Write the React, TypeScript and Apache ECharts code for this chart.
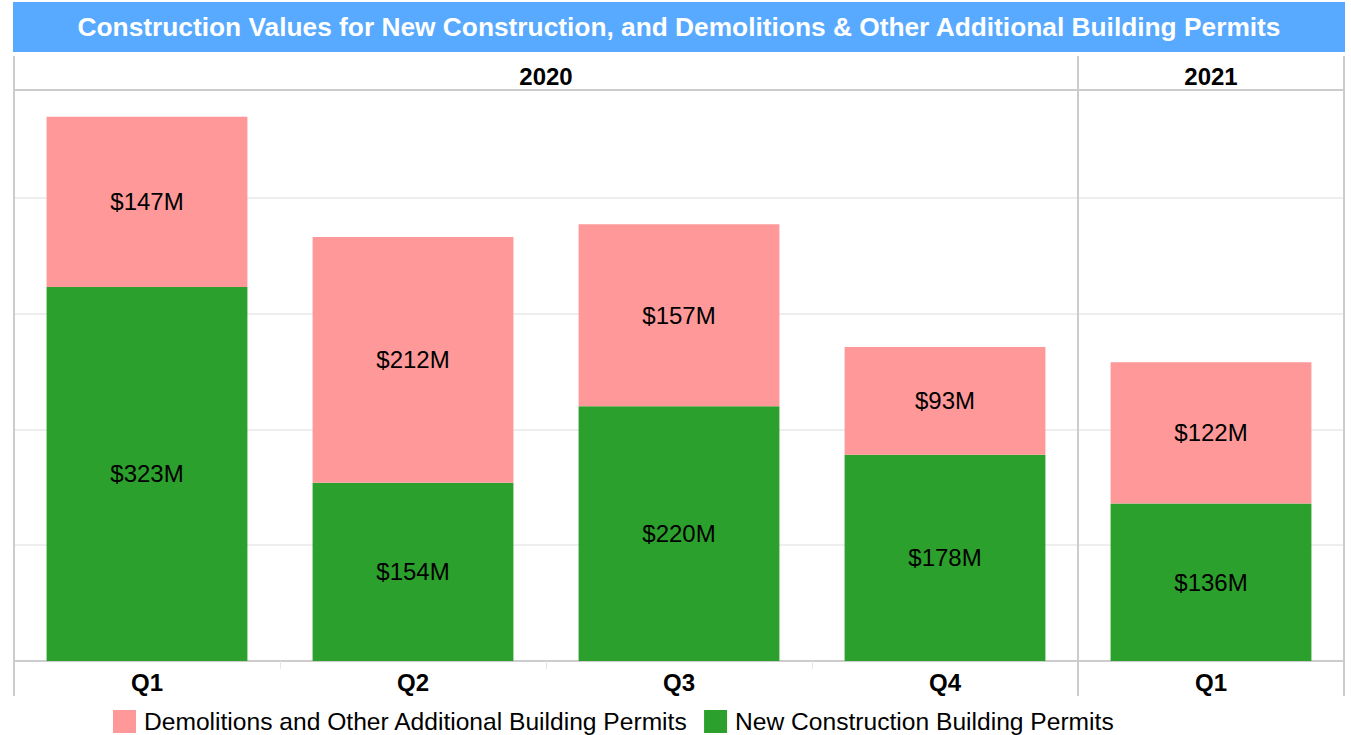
import React, { useEffect, useRef } from "react";
import * as echarts from "echarts";

const categories = ["Q1", "Q2", "Q3", "Q4", "Q1"];
const newConstruction = [323, 154, 220, 178, 136];
const demolitions = [147, 212, 157, 93, 122];
const years = ["2020", "2021"];
const yearSpans = [4, 1];
const seriesNames = ["New Construction Building Permits", "Demolitions and Other Additional Building Permits"];
const titleText = "Construction Values for New Construction, and Demolitions & Other Additional Building Permits";

const W = 1351;
const H = 735;
const GL = 14;
const GR = 1344;
const GT = 90;
const GB = 661;
const FONT = "Liberation Sans, Arial, sans-serif";
const BORDER = "#cccccc";

export default function App() {
  const ref = useRef<HTMLDivElement>(null);
  useEffect(() => {
    document.body.style.margin = "0";
    const chart = echarts.init(ref.current!, null, { renderer: "svg" });
    const catW = (GR - GL) / categories.length;
    const graphics: any[] = [
      { type: "rect", shape: { x: 13, y: 2, width: 1332, height: 50 }, style: { fill: "#57AAFF" }, z: 1 },
      {
        type: "text", x: 679, y: 27, z: 2,
        style: { text: titleText, fill: "#ffffff", font: `bold 26.3px ${FONT}`, textAlign: "center", textVerticalAlign: "middle" },
      },
      { type: "line", shape: { x1: GL, y1: 56, x2: GL, y2: 696 }, style: { stroke: BORDER, lineWidth: 2 }, z: 5 },
      { type: "line", shape: { x1: GR, y1: 56, x2: GR, y2: 696 }, style: { stroke: BORDER, lineWidth: 2 }, z: 5 },
      { type: "line", shape: { x1: GL, y1: GT, x2: GR, y2: GT }, style: { stroke: BORDER, lineWidth: 2 }, z: 5 },
    ];
    let cum = 0;
    years.forEach((y, i) => {
      const span = yearSpans[i];
      const cx = GL + (cum + span / 2) * catW;
      graphics.push({
        type: "text", x: cx, y: 76, z: 5,
        style: { text: y, fill: "#000", font: `bold 24px ${FONT}`, textAlign: "center", textVerticalAlign: "middle" },
      });
      cum += span;
      if (cum < categories.length) {
        const sx = GL + cum * catW;
        graphics.push({ type: "line", shape: { x1: sx, y1: 56, x2: sx, y2: 696 }, style: { stroke: BORDER, lineWidth: 2 }, z: 5 });
      }
    });

    const labelCfg = {
      show: true,
      position: "inside",
      color: "#000",
      fontSize: 24,
      fontFamily: FONT,
      formatter: (p: any) => `$${p.value}M`,
    };

    chart.setOption({
      animation: false,
      grid: { left: GL, right: W - GR, top: GT, bottom: H - GB, containLabel: false },
      xAxis: {
        type: "category",
        data: categories,
        axisLine: { lineStyle: { color: BORDER, width: 2 } },
        axisTick: { show: true, length: 8, lineStyle: { color: "#e6e6e6" } },
        axisLabel: { color: "#000", fontWeight: "bold", fontSize: 24, fontFamily: FONT, margin: 9 },
      },
      yAxis: {
        type: "value",
        min: 0,
        max: 493,
        interval: 100,
        axisLine: { show: false },
        axisTick: { show: false },
        axisLabel: { show: false },
        splitLine: { lineStyle: { color: "#eeeeee", width: 2 } },
      },
      legend: {
        data: [seriesNames[1], seriesNames[0]],
        left: 113,
        top: 709,
        padding: 0,
        itemWidth: 23,
        itemHeight: 23,
        itemGap: 16,
        icon: "rect",
        textStyle: { fontSize: 24.6, lineHeight: 23, color: "#000", fontFamily: FONT, padding: [0, 0, 0, 3] },
      },
      series: [
        {
          name: seriesNames[0], type: "bar", stack: "total", data: newConstruction, barWidth: "75.5%",
          itemStyle: { color: "#2CA02C" }, label: labelCfg,
        },
        {
          name: seriesNames[1], type: "bar", stack: "total", data: demolitions, barWidth: "75.5%",
          itemStyle: { color: "#FF9999" }, label: labelCfg,
        },
      ],
      graphic: graphics,
    });
    return () => chart.dispose();
  }, []);
  return <div ref={ref} style={{ width: W, height: H, position: "absolute", left: 0, top: 0 }} />;
}
